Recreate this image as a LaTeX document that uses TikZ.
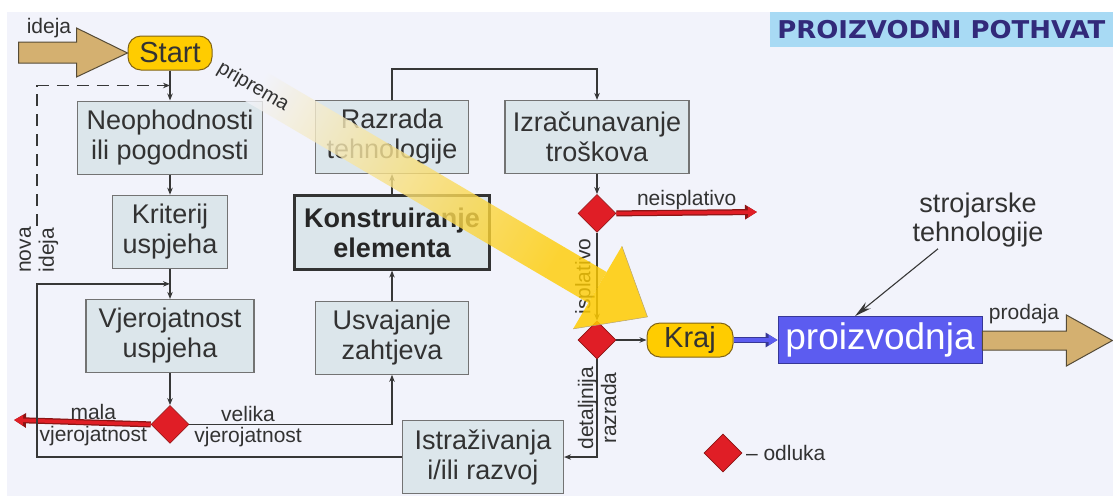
\documentclass[tikz,border=0pt]{standalone}
\usepackage{fontspec}
\setmainfont{Liberation Sans}
\newfontfamily\naslovfont{DejaVu Sans}
\usepackage{graphicx}
\usetikzlibrary{positioning,shapes.geometric,arrows.meta,calc}

\definecolor{pozadina}{RGB}{242,243,251}
\definecolor{kutija}{RGB}{220,230,235}
\definecolor{rub}{RGB}{115,115,115}
\definecolor{tekst}{RGB}{50,50,50}
\definecolor{linija}{RGB}{55,55,55}
\definecolor{zuta}{RGB}{255,204,0}
\definecolor{zutarub}{RGB}{130,100,20}
\definecolor{crvena}{RGB}{224,30,38}
\definecolor{crvenarub}{RGB}{140,20,20}
\definecolor{plava}{RGB}{92,92,240}
\definecolor{plavarub}{RGB}{55,55,150}
\definecolor{smeda}{RGB}{212,176,112}
\definecolor{smedarub}{RGB}{85,75,55}
\definecolor{naslovbg}{RGB}{168,218,244}
\definecolor{naslovtx}{RGB}{50,42,122}

\begin{document}
\begin{tikzpicture}[x=1pt, y=-1pt,
    box/.style = {draw=rub, line width=1.2pt, fill=kutija, text=tekst, align=center,
      minimum height=73pt, inner sep=3pt, font=\fontsize{27}{30}\selectfont},
    term/.style = {draw=zutarub, line width=1pt, fill=zuta, rounded corners=13pt,
      minimum height=34pt, inner sep=0pt, text=black!80, font=\fontsize{29}{31}\selectfont},
    odl/.style = {diamond, draw=crvenarub, line width=0.6pt, fill=crvena,
      minimum width=38pt, minimum height=38pt, inner sep=0pt},
    lbl/.style = {text=tekst, inner sep=1.5pt, font=\fontsize{21}{23}\selectfont},
    conn/.style = {draw=linija, line width=1.8pt, -{Stealth[length=7pt,width=5.5pt]}},
    crvenastr/.style = {draw=crvena, line width=3.5pt, -{Triangle[length=9pt,width=10pt]},
      preaction={draw=crvenarub, line width=6pt, -{Triangle[length=12pt,width=14pt]}}},
    plavastr/.style = {draw=plava, line width=3.5pt, -{Triangle[length=9pt,width=10pt]},
      preaction={draw=plavarub, line width=6pt, -{Triangle[length=12pt,width=14pt]}}},
    strelica/.style = {fill=smeda, draw=smedarub, line width=1pt, line join=miter},
    tanka/.style = {draw=linija, line width=1.1pt, -{Stealth[length=17pt,width=8pt]}}]
    \useasboundingbox (0,0) rectangle (1113,496);
    \fill[pozadina] (7,12) rectangle (1113,496);
    \node[fill=naslovbg, minimum width=343pt, minimum height=35pt, inner sep=0pt,
      anchor=north east, text=naslovtx] (naslov) at (1113,12)
      {\naslovfont\bfseries\fontsize{24.5}{26}\selectfont\scalebox{1.06}[1]{PROIZVODNI POTHVAT}};
    % lijevi stupac
    \node[term, minimum width=84pt] (start) at (170,53) {Start};
    \node[box, minimum width=185pt] (neo) [below=30pt of start] {Neophodnosti\\ili pogodnosti};
    \node[box, minimum width=115pt] (krit) [below=20pt of neo] {Kriterij\\uspjeha};
    \node[box, minimum width=168pt] (vjer) [below=30pt of krit] {Vjerojatnost\\uspjeha};
    \node[odl] (odl1) [below=32pt of vjer] {};
    % srednji stupac
    \node[box, minimum width=153pt] (raz) at (392,137) {Razrada\\tehnologije};
    \node[box, draw=black!80, line width=2.5pt, minimum width=195pt, minimum height=74pt,
      text=black!85, font=\bfseries\fontsize{27}{30}\selectfont] (kon) [below=20pt of raz] {Konstruiranje\\elementa};
    \node[box, minimum width=153pt] (usv) [below=30pt of kon] {Usvajanje\\zahtjeva};
    % desni dio
    \node[box, minimum width=184pt] (izr) at (597,137) {Izračunavanje\\troškova};
    \node[odl] (odl2) [below=20pt of izr] {};
    \node[odl] (odl3) at (597,340) {};
    \node[term, minimum width=86pt] (kraj) at (690,340) {Kraj};
    \node[draw=plavarub, line width=0.8pt, fill=plava, text=white, minimum width=204pt,
      minimum height=47pt, inner sep=0pt, font=\fontsize{37}{40}\selectfont] (pro) at (880,340) {proizvodnja};
    \node[box, minimum width=161pt] (ist) at (483,457) {Istraživanja\\i/ili razvoj};
    \node[lbl, align=center, font=\fontsize{27}{29}\selectfont] (stroj) at (978,220) {strojarske\\tehnologije};
    \node[lbl, rotate=90, align=center] (nova) at (39,250) {nova\\ideja};
    \coordinate (kut) at (37,457);
    \coordinate (malaKraj) at (14,420);
    \coordinate (neKraj) at (757,212);
    \coordinate (gore) at ($(start.south)!0.5!(neo.north)$);
    \coordinate (sred) at ($(krit.south)!0.5!(vjer.north)$);
    % debele strelice
    \draw[strelica] (start.west) -- ++(-51,-25) -- ++(0,14) -- ++(-58,0) -- ++(0,21)
      -- ++(58,0) -- ++(0,14) -- cycle;
    \draw[strelica] ($(pro.east)+(0,-9)$) -- ++(84,0) -- ++(0,-16) -- ++(46,25.5)
      -- ++(-46,25.5) -- ++(0,-16) -- ++(-84,0) -- cycle;
    \node[lbl] (ideja) at (49,28) {ideja};
    \node[lbl] (prodaja) at (1024,314) {prodaja};
    % veze
    \draw[conn] (start) -- (neo);
    \draw[conn] (neo) -- (krit);
    \draw[conn] (krit) -- (vjer);
    \draw[conn] (vjer) -- (odl1);
    \draw[conn] (usv) -- (kon);
    \draw[conn] (kon) -- (raz);
    \draw[conn] (raz.north) -- ++(0,-31) -| (izr.north);
    \draw[conn] (izr) -- (odl2);
    \draw[conn] (odl2) -- node[lbl, rotate=90, anchor=south] {isplativo} (odl3);
    \draw[conn] (odl3) -- (kraj);
    \draw[plavastr] (kraj) -- (pro);
    \draw[conn] (odl3.south) |- node[lbl, pos=0.25, rotate=90, align=center] {detaljnija\\razrada} (ist.east);
    \draw[conn] (odl1.east) -| node[lbl, pos=0.145, above] {velika}
      node[lbl, pos=0.145, below] {vjerojatnost} (usv.south);
    \draw[crvenastr] (odl1.west) -- node[lbl, pos=0.42, above] {mala}
      node[lbl, pos=0.42, below] {vjerojatnost} (malaKraj);
    \draw[crvenastr] (odl2.east) -- node[lbl, above] {neisplativo} (neKraj);
    \draw[conn] (ist.west) -- (kut) |- (sred);
    \draw[conn, dash pattern=on 12pt off 8pt] (nova.east -| kut) |- (gore);
    \draw[tanka] ($(stroj.south)+(-40,0)$) -- ($(pro.north)+(-25,0)$);
    % priprema
    \shade[opacity=0.8, top color=pozadina, middle color=zuta!45!pozadina, bottom color=zuta,
      shading angle=59.5] (206,78) -- (224,47) -- (606.6,272) -- (588.4,303) -- cycle;
    \fill[zuta, opacity=0.85] (621.9,246.1) -- (647.5,316.9) -- (573.1,328.9) -- cycle;
    \draw[zutarub!60, line width=0.5pt] (621.9,246.1) -- (647.5,316.9) -- (573.1,328.9);
    \node[lbl, rotate=-30.5, font=\fontsize{20}{22}\selectfont] (priprema) at (253,87) {priprema};
    % legenda
    \node[odl] (legOdl) at (723,453) {};
    \node[lbl] (legTxt) [right=2pt of legOdl] {– odluka};
\end{tikzpicture}
\end{document}
